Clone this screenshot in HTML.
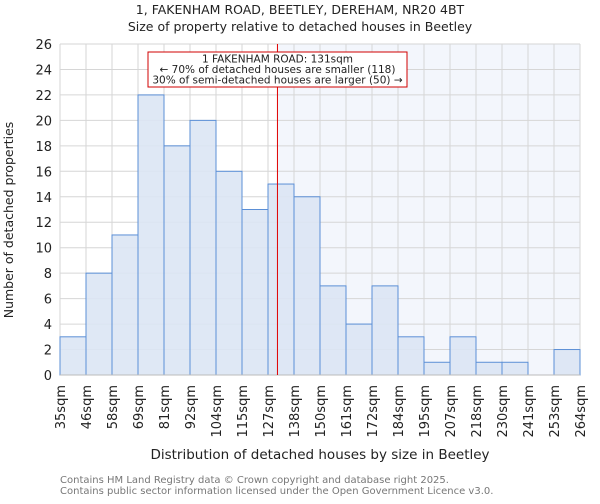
<!DOCTYPE html>
<html><head><meta charset="utf-8"><style>
body{margin:0;background:#fff;font-family:"DejaVu Sans","Liberation Sans",sans-serif}
svg text{font-family:"DejaVu Sans","Liberation Sans",sans-serif}
</style></head><body>
<svg id="c" width="600" height="500" xmlns="http://www.w3.org/2000/svg">
<text x="300" y="14" text-anchor="middle" font-size="12.5" fill="#222">1, FAKENHAM ROAD, BEETLEY, DEREHAM, NR20 4BT</text>
<text x="300" y="31" text-anchor="middle" font-size="12.5" fill="#222">Size of property relative to detached houses in Beetley</text>
<g id="plot"></g>
<text x="320" y="459" text-anchor="middle" font-size="13.5" fill="#222">Distribution of detached houses by size in Beetley</text>
<text transform="translate(13,220) rotate(-90)" text-anchor="middle" font-size="12.5" fill="#222">Number of detached properties</text>
<text x="60" y="483" font-size="10" fill="#777">Contains HM Land Registry data © Crown copyright and database right 2025.</text>
<text x="60" y="494" font-size="10" fill="#777">Contains public sector information licensed under the Open Government Licence v3.0.</text>
</svg>
<script>
const categories=["35sqm","46sqm","58sqm","69sqm","81sqm","92sqm","104sqm","115sqm","127sqm","138sqm","150sqm","161sqm","172sqm","184sqm","195sqm","207sqm","218sqm","230sqm","241sqm","253sqm","264sqm"];
const counts=[3,8,11,22,18,20,16,13,15,14,7,4,7,3,1,3,1,1,0,2];
const yTicks=[0,2,4,6,8,10,12,14,16,18,20,22,24,26];
const binEdges=[35,46,58,69,81,92,104,115,127,138,150,161,172,184,195,207,218,230,241,253,264];
const subjectSize=131;
const X0=60,X1=580,Y0=375,Y1=44,YMAX=26,N=counts.length;
const bw=(X1-X0)/N;
const xi=i=>X0+i*bw;
const y=v=>Y0-(v/YMAX)*(Y0-Y1);
function xs(s){for(let i=0;i<binEdges.length-1;i++){if(s>=binEdges[i]&&s<=binEdges[i+1])return xi(i)+(s-binEdges[i])/(binEdges[i+1]-binEdges[i])*bw;}return X1;}
const NS="http://www.w3.org/2000/svg";
const g=document.getElementById('plot');
function mk(t,a){const e=document.createElementNS(NS,t);for(const k in a)e.setAttribute(k,a[k]);g.appendChild(e);return e;}
const rx=xs(subjectSize);
let sh=mk('rect',{x:rx,y:Y1,width:X1-rx,height:Y0-Y1,fill:'#f3f6fc'});


yTicks.forEach(t=>{
 let l=mk('line',{x1:X0,x2:X1,y1:y(t),y2:y(t),stroke:'#d6d6d6','stroke-width':1});
 
 
 let tx=mk('text',{x:X0-8,y:y(t)+5,'text-anchor':'end','font-size':13,fill:'#222'});
 tx.textContent=t;
 
 
});
categories.forEach((c,i)=>{
 let l=mk('line',{x1:xi(i),x2:xi(i),y1:Y1,y2:Y0,stroke:'#d6d6d6','stroke-width':1});
 
 
 let tx=mk('text',{transform:`translate(${xi(i)+5},${Y0+10}) rotate(-90)`,'text-anchor':'end','font-size':13,fill:'#222'});
 tx.textContent=c;
 
 
});
counts.forEach((v,i)=>{
 if(v<=0)return;
 let r=mk('rect',{x:xi(i),y:y(v),width:bw,height:Y0-y(v),fill:'#dbe5f4','fill-opacity':0.9,stroke:'#5b8fd6','stroke-width':1});
 
 
});
let ax=mk('line',{x1:X0,x2:X1,y1:Y0,y2:Y0,stroke:'#bbb'});


let ml=mk('line',{x1:rx,x2:rx,y1:Y1,y2:Y0,stroke:'#e00000','stroke-width':1});


let bx=mk('rect',{x:148,y:52,width:259,height:35,fill:'#fff',stroke:'#d00000','stroke-width':1});


["1 FAKENHAM ROAD: 131sqm","← 70% of detached houses are smaller (118)","30% of semi-detached houses are larger (50) →"].forEach((s,i)=>{
 let t=mk('text',{x:277.5,y:62.5+i*10.5,'text-anchor':'middle','font-size':10.5,fill:'#222'});
 t.textContent=s;
 
 
});
</script>
</body></html>
